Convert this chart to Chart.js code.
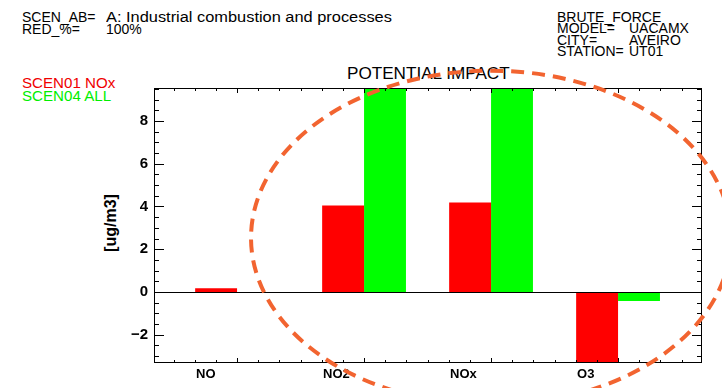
<!DOCTYPE html>
<html>
<head>
<meta charset="utf-8">
<script src="https://cdn.jsdelivr.net/npm/chart.js@4.4.1/dist/chart.umd.min.js"></script>
<style>
  body { margin: 0; background: #fff; }
  #wrap { position: relative; width: 722px; height: 388px; }
  #chart { position: absolute; left: 0; top: 0; z-index: 1; }
  .t { position: absolute; font-family: "Liberation Sans", Arial, sans-serif; white-space: pre; line-height: 1; color: #000; transform-origin: 0 0; }
</style>
</head>
<body>
<div id="wrap">
  <div class="t" style="left:22px;top:10px;font-size:14px;">SCEN_AB=</div>
  <div class="t" style="left:106px;top:10px;font-size:14px;transform:scaleX(1.17);">A: Industrial combustion and processes</div>
  <div class="t" style="left:22px;top:22px;font-size:14px;">RED_%=</div>
  <div class="t" style="left:106px;top:22px;font-size:14px;">100%</div>

  <div class="t" style="left:557px;top:10px;font-size:14px;">BRUTE_FORCE</div>
  <div class="t" style="left:557px;top:21px;font-size:14px;">MODEL=</div>
  <div class="t" style="left:629px;top:21px;font-size:14px;">UACAMX</div>
  <div class="t" style="left:557px;top:33px;font-size:14px;">CITY=</div>
  <div class="t" style="left:629px;top:33px;font-size:14px;">AVEIRO</div>
  <div class="t" style="left:557px;top:44px;font-size:14px;">STATION=</div>
  <div class="t" style="left:629px;top:44px;font-size:14px;">UT01</div>

  <div class="t" style="left:22px;top:76px;font-size:14px;color:#f00000;transform:scaleX(1.08);">SCEN01 NOx</div>
  <div class="t" style="left:22px;top:89px;font-size:14px;color:#00ee00;transform:scaleX(1.08);">SCEN04 ALL</div>

  <div class="t" style="left:347px;top:66px;font-size:16px;transform:scaleX(1.07);">POTENTIAL IMPACT</div>
  <div class="t" style="left:111px;top:223px;font-size:16px;font-weight:bold;transform-origin:50% 50%;transform:translate(-50%,-50%) rotate(-90deg);">[ug/m3]</div>

  <canvas id="chart" width="722" height="388"></canvas>
</div>
<script>
// pollutants on the x axis
const categories = ['NO', 'NO2', 'NOx', 'O3'];
// potential impact, ug/m3 (green NO2/NOx and red O3 run past the frame)
const scen01Nox = [0.17, 4.04, 4.18, -3.6];
const scen04All = [0, 10.5, 10.5, -0.42];
const yTickValues = [-2, 0, 2, 4, 6, 8];

const yMin = -3.32, yMax = 9.54;

// IDL style frame, zero line and inward tick marks
const frameTicks = {
    id: 'frameTicks',
    afterDatasetsDraw(chart) {
        const { ctx, chartArea: a, scales: { x, y } } = chart;
        ctx.save();
        ctx.strokeStyle = '#000';
        ctx.lineWidth = 1;
        ctx.strokeRect(a.left + 0.5, a.top + 0.5, a.right - a.left - 1, a.bottom - a.top - 1);

        const y0 = Math.round(y.getPixelForValue(0)) + 0.5;
        ctx.beginPath();
        ctx.moveTo(a.left, y0);
        ctx.lineTo(a.right, y0);

        for (let k = 0; k <= 24; k++) {
            const v = -0.5 + k / 6;
            const px = Math.round(x.getPixelForValue(v)) + 0.5;
            const len = Math.abs(v - Math.round(v)) < 1e-6 ? 5 : 3;
            ctx.moveTo(px, a.bottom); ctx.lineTo(px, a.bottom - len);
            ctx.moveTo(px, a.top); ctx.lineTo(px, a.top + len);
        }
        for (let v = -3; v <= 9.5; v += 0.5) {
            const py = Math.round(y.getPixelForValue(v)) + 0.5;
            const len = v % 2 === 0 ? 10 : 5;
            ctx.moveTo(a.left, py); ctx.lineTo(a.left + len, py);
            ctx.moveTo(a.right, py); ctx.lineTo(a.right - len, py);
        }
        ctx.stroke();
        ctx.restore();
    }
};

// dashed orange ellipse drawn over the chart
const highlight = {
    id: 'highlight',
    afterDraw(chart) {
        const { ctx, scales: { x, y } } = chart;
        const cx = x.getPixelForValue(2.0);
        const cy = y.getPixelForValue(2.53);
        const rx = x.getPixelForValue(2.0 + 1.89) - cx;
        const ry = cy - y.getPixelForValue(2.53 + 7.82);
        ctx.save();
        ctx.strokeStyle = '#f26430';
        ctx.lineWidth = 4;
        ctx.setLineDash([13, 8]);
        ctx.beginPath();
        ctx.ellipse(cx, cy, rx, ry, 0, 0, Math.PI * 2);
        ctx.stroke();
        ctx.restore();
    }
};

new Chart(document.getElementById('chart'), {
    type: 'bar',
    data: {
        datasets: [{
            label: 'SCEN01 NOx',
            data: categories.map((c, i) => ({ x: i, y: scen01Nox[i] })),
            backgroundColor: '#ff0000',
            clip: 0
        }, {
            label: 'SCEN04 ALL',
            data: categories.map((c, i) => ({ x: i, y: scen04All[i] })),
            backgroundColor: '#00ff00',
            clip: 0
        }]
    },
    options: {
        responsive: false,
        animation: false,
        categoryPercentage: 0.66,
        barPercentage: 1,
        layout: { padding: { top: 88, right: 20, left: 0, bottom: 0 } },
        plugins: {
            legend: { display: false },
            title: { display: false },
            tooltip: { enabled: false }
        },
        scales: {
            x: {
                type: 'linear',
                offset: false,
                min: -0.654,
                max: 3.661,
                grid: { display: false, drawTicks: false, offset: false },
                border: { display: false },
                afterBuildTicks: s => { s.ticks = categories.map((c, i) => ({ value: i })); },
                afterFit: s => { s.height = 25; },
                ticks: {
                    autoSkip: false,
                    maxRotation: 0,
                    align: 'start',
                    labelOffset: -41,
                    padding: 4,
                    color: '#000',
                    font: { family: 'Liberation Sans', size: 13, weight: 'bold' },
                    callback: v => categories[v] || ''
                }
            },
            y: {
                min: yMin,
                max: yMax,
                grid: { display: false, drawTicks: false },
                border: { display: false },
                afterBuildTicks: s => { s.ticks = yTickValues.map(v => ({ value: v })); },
                afterFit: s => { s.width = 154; },
                ticks: {
                    padding: 6,
                    color: '#000',
                    font: { family: 'Liberation Sans', size: 15, weight: 'bold' },
                    callback: v => (v < 0 ? '\u2212' + Math.abs(v) : String(v))
                }
            }
        }
    },
    plugins: [frameTicks, highlight]
});
</script>
</body>
</html>
